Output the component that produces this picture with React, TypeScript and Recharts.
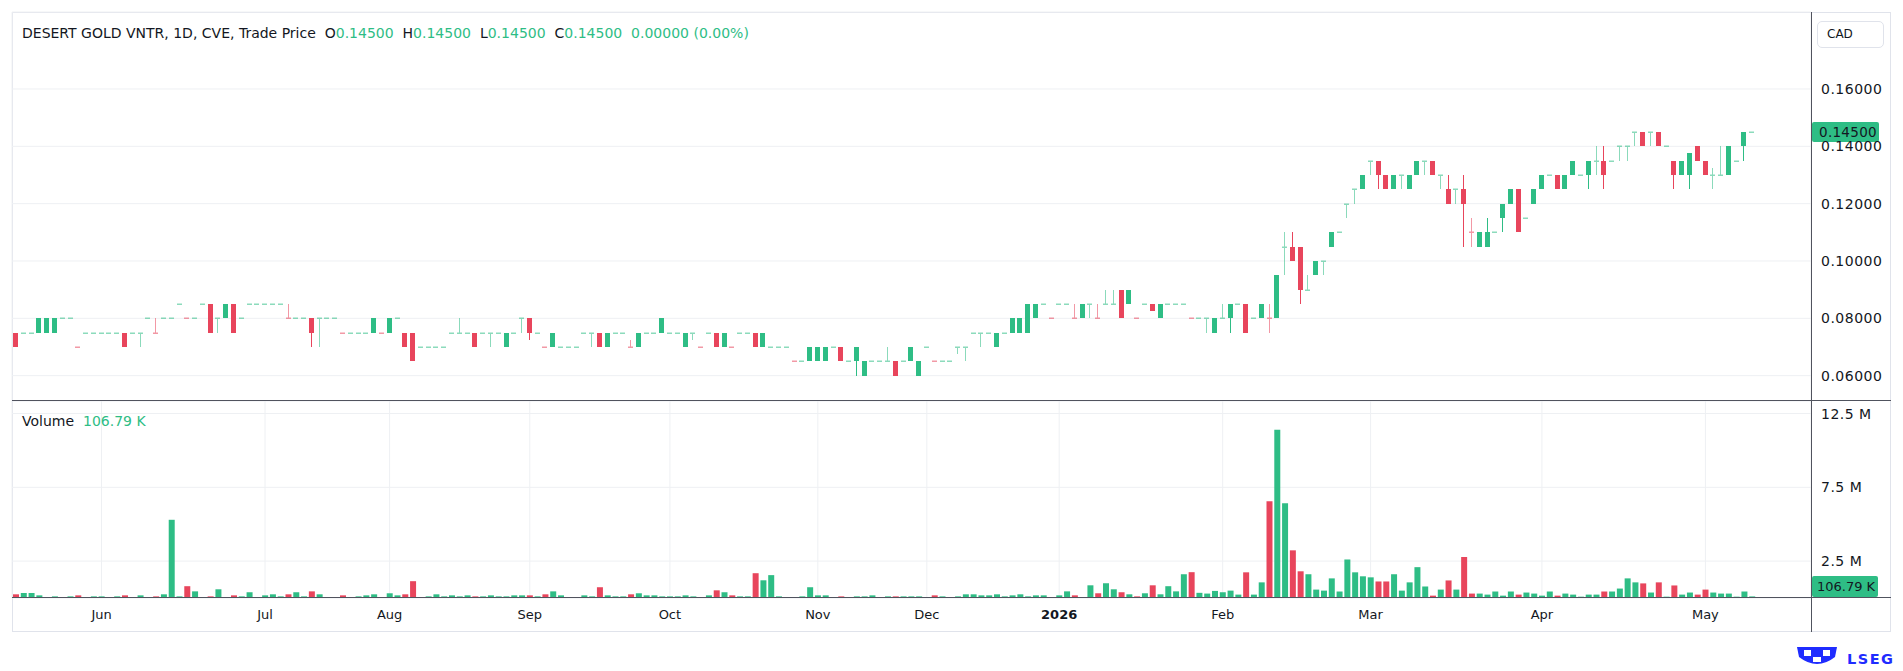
import React from "react";
import {
  ComposedChart,
  Bar,
  Cell,
  XAxis,
  YAxis,
  CartesianGrid,
  ReferenceLine,
} from "recharts";

const GREEN = "#2ebd85";
const RED = "#e8455c";
const GRID = "#eef0f3";
const TEXT = "#131722";
const FRAME = "#50535e";
const FONT = "'DejaVu Sans', Verdana, sans-serif";

// one row per traded session: [open, high, low, close] in CAD (days without trades are absent)
const OHLC: number[][] = [
  [.075, .075, .07, .07], [.075, .075, .075, .075], [.075, .075, .075, .075], [.075, .08, .075, .08],
  [.075, .08, .075, .08], [.075, .08, .075, .08], [.08, .08, .08, .08], [.08, .08, .08, .08],
  [.07, .07, .07, .07], [.075, .075, .075, .075], [.075, .075, .075, .075], [.075, .075, .075, .075],
  [.075, .075, .075, .075], [.075, .075, .075, .075], [.075, .075, .07, .07], [.075, .075, .075, .075],
  [.075, .075, .07, .075], [.08, .08, .08, .08], [.075, .08, .075, .075], [.08, .08, .08, .08],
  [.08, .08, .08, .08], [.085, .085, .085, .085], [.08, .08, .08, .08], [.08, .08, .08, .08],
  [.085, .085, .085, .085], [.085, .085, .075, .075], [.08, .08, .075, .08], [.08, .085, .08, .085],
  [.085, .085, .075, .075], [.08, .08, .08, .08], [.085, .085, .085, .085], [.085, .085, .085, .085],
  [.085, .085, .085, .085], [.085, .085, .085, .085], [.085, .085, .085, .085], [.08, .085, .08, .08],
  [.08, .08, .08, .08], [.08, .08, .08, .08], [.08, .08, .07, .075], [.08, .08, .07, .08],
  [.08, .08, .08, .08], [.08, .08, .08, .08], [.075, .075, .075, .075], [.075, .075, .075, .075],
  [.075, .075, .075, .075], [.075, .075, .075, .075], [.075, .08, .075, .08], [.075, .075, .075, .075],
  [.075, .08, .075, .08], [.08, .08, .08, .08], [.075, .075, .07, .07], [.075, .075, .065, .065],
  [.07, .07, .07, .07], [.07, .07, .07, .07], [.07, .07, .07, .07], [.07, .07, .07, .07],
  [.075, .075, .075, .075], [.075, .08, .075, .075], [.075, .075, .075, .075], [.075, .075, .07, .07],
  [.075, .075, .075, .075], [.075, .075, .07, .075], [.075, .075, .075, .075], [.07, .075, .07, .075],
  [.075, .075, .075, .075], [.08, .08, .075, .08], [.08, .08, .0725, .075], [.075, .075, .075, .075],
  [.07, .07, .07, .07], [.07, .075, .07, .075], [.07, .07, .07, .07], [.07, .07, .07, .07],
  [.07, .07, .07, .07], [.075, .075, .075, .075], [.075, .075, .07, .075], [.075, .075, .07, .07],
  [.07, .075, .07, .075], [.075, .075, .075, .075], [.075, .075, .075, .075], [.07, .0725, .07, .07],
  [.07, .075, .07, .075], [.075, .075, .075, .075], [.075, .075, .075, .075], [.075, .08, .075, .08],
  [.075, .075, .075, .075], [.075, .075, .075, .075], [.07, .075, .07, .075], [.075, .075, .0725, .075],
  [.07, .07, .07, .07], [.075, .075, .075, .075], [.075, .075, .07, .07], [.07, .075, .07, .075],
  [.07, .07, .07, .07], [.075, .075, .075, .075], [.075, .075, .075, .075], [.075, .075, .07, .07],
  [.07, .075, .07, .075], [.07, .07, .07, .07], [.07, .07, .07, .07], [.07, .07, .07, .07],
  [.065, .065, .065, .065], [.065, .065, .065, .065], [.065, .07, .065, .07], [.065, .07, .065, .07],
  [.065, .07, .065, .07], [.07, .07, .07, .07], [.07, .07, .065, .065], [.065, .065, .065, .065],
  [.065, .07, .06, .07], [.06, .065, .06, .065], [.065, .065, .065, .065], [.065, .065, .065, .065],
  [.065, .07, .065, .065], [.065, .065, .06, .06], [.065, .065, .065, .065], [.065, .07, .065, .07],
  [.06, .065, .06, .065], [.07, .07, .07, .07], [.065, .065, .065, .065], [.065, .065, .065, .065],
  [.065, .065, .065, .065], [.07, .07, .0675, .07], [.07, .07, .065, .07], [.075, .075, .075, .075],
  [.075, .075, .07, .075], [.075, .075, .075, .075], [.07, .075, .07, .075], [.075, .075, .075, .075],
  [.075, .08, .075, .08], [.075, .08, .075, .08], [.075, .085, .075, .085], [.08, .085, .08, .085],
  [.085, .085, .085, .085], [.08, .08, .08, .08], [.085, .085, .085, .085], [.085, .085, .085, .085],
  [.08, .085, .08, .08], [.08, .085, .08, .085], [.085, .085, .08, .085], [.08, .085, .08, .08],
  [.085, .09, .085, .085], [.085, .09, .085, .085], [.09, .09, .08, .08], [.085, .09, .085, .09],
  [.08, .08, .08, .08], [.085, .085, .085, .085], [.085, .085, .0825, .0825], [.08, .085, .08, .085],
  [.085, .085, .085, .085], [.085, .085, .085, .085], [.085, .085, .085, .085], [.08, .08, .08, .08],
  [.08, .08, .08, .08], [.08, .08, .075, .08], [.075, .08, .075, .08], [.08, .085, .08, .08],
  [.08, .085, .075, .085], [.085, .085, .085, .085], [.085, .085, .075, .075], [.08, .08, .08, .08],
  [.08, .085, .08, .085], [.08, .085, .075, .08], [.08, .095, .08, .095], [.105, .11, .095, .105],
  [.105, .11, .10, .10], [.105, .105, .085, .09], [.09, .095, .09, .09], [.095, .10, .095, .10],
  [.10, .10, .095, .10], [.105, .11, .105, .11], [.11, .11, .11, .11], [.12, .12, .115, .12],
  [.125, .125, .12, .125], [.125, .13, .125, .13], [.135, .135, .13, .135], [.135, .135, .125, .13],
  [.13, .13, .125, .125], [.125, .13, .125, .13], [.13, .13, .125, .13], [.125, .13, .125, .13],
  [.13, .135, .13, .135], [.135, .135, .13, .135], [.135, .135, .13, .13], [.13, .13, .125, .13],
  [.125, .13, .12, .12], [.125, .125, .12, .125], [.125, .13, .105, .12], [.11, .115, .105, .11],
  [.105, .11, .105, .11], [.105, .115, .105, .11], [.11, .11, .11, .11], [.115, .12, .11, .12],
  [.12, .125, .12, .125], [.125, .125, .11, .11], [.115, .115, .115, .115], [.12, .125, .12, .125],
  [.125, .13, .125, .13], [.13, .13, .13, .13], [.13, .13, .125, .125], [.125, .13, .125, .13],
  [.13, .135, .13, .135], [.13, .13, .13, .13], [.13, .135, .125, .135], [.135, .14, .13, .135],
  [.135, .14, .125, .13], [.135, .135, .135, .135], [.14, .14, .135, .14], [.14, .14, .135, .14],
  [.145, .145, .14, .145], [.145, .145, .14, .14], [.145, .145, .14, .145], [.145, .145, .14, .14],
  [.14, .14, .14, .14], [.135, .135, .125, .13], [.13, .135, .13, .135], [.13, .1375, .125, .1375],
  [.14, .14, .135, .135], [.135, .135, .13, .13], [.13, .1325, .125, .13], [.13, .14, .13, .13],
  [.13, .14, .13, .14], [.135, .135, .135, .135], [.14, .145, .135, .145], [.145, .145, .145, .145],
];

// session volume, millions of shares
const VOLUME_M: number[] = [
  .25, .34, .34, .18, .05, .11, .05, .11, .18, .05, .11, .11, .05, .11, .18, .05,
  .18, .05, .11, .25, 5.3, .11, .80, .45, .05, .11, .59, .05, .18, .11, .39, .05,
  .18, .25, .11, .25, .39, .11, .45, .25, .05, .05, .18, .05, .11, .18, .25, .05,
  .32, .18, .25, 1.14, .05, .11, .25, .11, .18, .11, .18, .11, .11, .18, .11, .11,
  .18, .18, .18, .11, .25, .45, .18, .05, .05, .18, .11, .73, .18, .11, .11, .25,
  .32, .18, .18, .11, .11, .11, .18, .11, .05, .18, .52, .39, .18, .11, .11, 1.68,
  1.20, 1.55, .11, .05, .05, .11, .73, .18, .18, .05, .11, .05, .11, .11, .18, .05,
  .11, .11, .11, .11, .11, .05, .18, .11, .05, .11, .25, .25, .18, .18, .25, .11,
  .18, .25, .11, .18, .18, .05, .18, .45, .18, .05, .86, .32, 1.0, .59, .39, .25,
  .11, .32, .86, .25, .80, .45, 1.61, 1.75, .35, .30, .48, .39, .50, .23, 1.74, .23,
  1.06, 6.56, 11.4, 6.42, 3.23, 1.81, 1.61, .57, .50, 1.33, .44, 2.61, 1.74, 1.47, 1.40, 1.12,
  1.12, 1.61, .50, 1.06, 2.09, .78, .16, .57, 1.19, .57, 2.78, .30, .30, .23, .44, .16,
  .44, .23, .37, .30, .16, .44, .16, .30, .23, .09, .23, .23, .44, .44, .64, 1.33,
  1.06, .99, .37, 1.06, .09, .85, .23, .37, .23, .57, .37, .30, .30, .09, .44, .10679,
];

// sessions where open equals close but the bar is marked down
const DOWN_DOJI = [8, 18, 22, 35, 42, 47, 68, 79, 88, 92, 100, 118, 133, 136, 139, 144, 151, 161, 187];

const MONTH_TICKS = [11, 32, 48, 66, 84, 103, 117, 134, 155, 174, 196, 217];
const MONTH_LABELS = ["Jun", "Jul", "Aug", "Sep", "Oct", "Nov", "Dec", "2026", "Feb", "Mar", "Apr", "May"];
const PRICE_TICKS = [0.06, 0.08, 0.1, 0.12, 0.14, 0.16];
const PRICE_DOMAIN = [0.05116, 0.18686];
const VOLUME_TICKS = [2.5e6, 7.5e6, 12.5e6];
const VOLUME_DOMAIN = [0, 13.35e6];

const rows = OHLC.map(([o, h, l, c], i) => ({
  i,
  o,
  h,
  l,
  c,
  range: [l, h],
  v: VOLUME_M[i] * 1e6,
  up: c > o || (c === o && !DOWN_DOJI.includes(i)),
}));
const last = rows[rows.length - 1];
const prev = rows[rows.length - 2];

const xPad = { left: 0, right: 55 };

function Candle(props: any) {
  const { x, y, width, height, payload } = props;
  const { o, h, l, c, up } = payload;
  const color = up ? GREEN : RED;
  const yTop = Math.min(y, y + height);
  const yBot = Math.max(y, y + height);
  const toY = (p: number) => (h > l ? yTop + ((h - p) / (h - l)) * (yBot - yTop) : yTop);
  const left = Math.round(x + width / 2 - 2.5);
  const mid = left + 2.5;
  const top = Math.round(toY(Math.max(o, c)));
  const bot = Math.round(toY(Math.min(o, c)));
  const hi = Math.round(toY(h));
  const lo = Math.round(toY(l));
  // flat sessions are drawn lighter, as thin strokes
  const flat = o === c;
  return (
    <g opacity={flat ? 0.55 : 1}>
      {lo > hi && <line x1={mid} x2={mid} y1={hi} y2={lo} stroke={color} strokeWidth={1} />}
      <rect x={left} y={flat ? top - 0.5 : top} width={5} height={Math.max(bot - top, flat ? 1.5 : 1)} fill={color} />
    </g>
  );
}

function PriceTag({ viewBox, text }: any) {
  const x = viewBox.x + viewBox.width;
  const y = viewBox.y;
  return (
    <g>
      <rect x={x + 1} y={y - 10} width={67} height={20} rx={2} fill={GREEN} />
      <text x={x + 8} y={y} dy="0.35em" fontSize={13.5} letterSpacing={0.3} fontFamily={FONT} fill={TEXT}>
        {text}
      </text>
    </g>
  );
}

function VolumeTag({ viewBox, text }: any) {
  const x = viewBox.x + viewBox.width;
  const y = viewBox.y;
  return (
    <g>
      <rect x={x + 1} y={y - 22} width={66} height={21} rx={2} fill={GREEN} />
      <text x={x + 6} y={y - 11.5} dy="0.35em" fontSize={13} fontFamily={FONT} fill={TEXT}>
        {text}
      </text>
    </g>
  );
}

function MonthTick({ x, y, payload }: any) {
  const label = MONTH_LABELS[MONTH_TICKS.indexOf(payload.value)];
  return (
    <text
      x={x}
      y={y}
      dy="0.71em"
      textAnchor="middle"
      fontSize={13}
      fontFamily={FONT}
      fontWeight={label === "2026" ? 700 : 400}
      fill={TEXT}
    >
      {label}
    </text>
  );
}

const axisTick = { fontSize: 14, fill: TEXT, fontFamily: FONT, letterSpacing: 0.5 };
const fmtPrice = (v: number) => v.toFixed(5);
const fmtVol = (v: number) => `${v / 1e6} M`;
const fmtK = (v: number) => `${(v * 1000).toFixed(2)} K`;

function Line({ left, top, width, height }: any) {
  return <div style={{ position: "absolute", left, top, width, height, background: FRAME }} />;
}

export default function App() {
  const change = last.c - prev.c;
  const pct = (change / prev.c) * 100;
  return (
    <div
      style={{
        position: "absolute",
        left: 0,
        top: 0,
        width: 1903,
        height: 671,
        background: "#fff",
        fontFamily: FONT,
        overflow: "hidden",
      }}
    >
      <div
        style={{
          position: "absolute",
          left: 12,
          top: 12,
          width: 1879,
          height: 620,
          border: "1px solid #e0e3eb",
          boxSizing: "border-box",
        }}
      />

      <div style={{ position: "absolute", left: 0, top: 0 }}>
        <ComposedChart width={1903} height={401} data={rows} margin={{ top: 12, right: 0, bottom: 0, left: 12 }}>
          <CartesianGrid stroke={GRID} />
          <XAxis dataKey="i" type="category" ticks={MONTH_TICKS} interval={0} tick={false} tickLine={false} axisLine={false} height={0} padding={xPad} />
          <YAxis
            orientation="right"
            type="number"
            domain={PRICE_DOMAIN}
            ticks={PRICE_TICKS}
            allowDataOverflow
            width={92}
            tick={axisTick}
            tickFormatter={fmtPrice}
            tickLine={false}
            axisLine={false}
            tickMargin={4}
          />
          <Bar dataKey="range" barSize={5} shape={<Candle />} isAnimationActive={false} />
          <ReferenceLine y={last.c} stroke="none" label={<PriceTag text={fmtPrice(last.c)} />} />
        </ComposedChart>
      </div>

      <div style={{ position: "absolute", left: 0, top: 401 }}>
        <ComposedChart width={1903} height={231} data={rows} margin={{ top: 0, right: 0, bottom: 0, left: 12 }}>
          <CartesianGrid stroke={GRID} />
          <XAxis
            dataKey="i"
            type="category"
            ticks={MONTH_TICKS}
            interval={0}
            tick={<MonthTick />}
            tickLine={false}
            tickSize={0}
            tickMargin={12}
            axisLine={false}
            height={34}
            padding={xPad}
          />
          <YAxis
            orientation="right"
            type="number"
            domain={VOLUME_DOMAIN}
            ticks={VOLUME_TICKS}
            allowDataOverflow
            width={92}
            tick={axisTick}
            tickFormatter={fmtVol}
            tickLine={false}
            axisLine={false}
            tickMargin={4}
          />
          <Bar dataKey="v" barSize={6} isAnimationActive={false}>
            {rows.map((r) => (
              <Cell key={r.i} fill={r.up ? GREEN : RED} />
            ))}
          </Bar>
          <ReferenceLine y={0} stroke="none" label={<VolumeTag text={fmtK(last.v / 1e6)} />} />
        </ComposedChart>
      </div>

      <Line left={12} top={400} width={1879} height={1} />
      <Line left={12} top={597} width={1879} height={1} />
      <Line left={1811} top={12} width={1} height={620} />

      <div
        style={{
          position: "absolute",
          left: 1817,
          top: 21,
          width: 67,
          height: 27,
          border: "1px solid #e0e3eb",
          borderRadius: 5,
          boxSizing: "border-box",
          fontSize: 12,
          lineHeight: "25px",
          paddingLeft: 9,
          color: TEXT,
        }}
      >
        CAD
      </div>

      <div style={{ position: "absolute", left: 22, top: 24, fontSize: 14, lineHeight: "18px", color: TEXT, whiteSpace: "pre" }}>
        {"DESERT GOLD VNTR, 1D, CVE, Trade Price  O"}
        <span style={{ color: GREEN }}>{fmtPrice(last.o)}</span>
        {"  H"}
        <span style={{ color: GREEN }}>{fmtPrice(last.h)}</span>
        {"  L"}
        <span style={{ color: GREEN }}>{fmtPrice(last.l)}</span>
        {"  C"}
        <span style={{ color: GREEN }}>{fmtPrice(last.c)}</span>
        <span style={{ color: GREEN }}>{`  ${change.toFixed(5)} (${pct.toFixed(2)}%)`}</span>
      </div>

      <div style={{ position: "absolute", left: 22, top: 412, fontSize: 14, lineHeight: "18px", color: TEXT, whiteSpace: "pre" }}>
        {"Volume  "}
        <span style={{ color: GREEN }}>{fmtK(last.v / 1e6)}</span>
      </div>

      <svg style={{ position: "absolute", left: 1796, top: 644 }} width={107} height={26}>
        <path d="M1 3 L41 3 L39 13 Q21 27 3 13 Z" fill="#1f2cff" />
        <rect x={8} y={6} width={7} height={6} fill="#fff" />
        <rect x={27} y={6} width={7} height={6} fill="#fff" />
        <rect x={17} y={13} width={8} height={5} fill="#fff" />
        <text x={51} y={20} fontSize={14.5} fontWeight={700} fontFamily={FONT} fill="#1f2cff" letterSpacing={1.5}>
          LSEG
        </text>
      </svg>
    </div>
  );
}
